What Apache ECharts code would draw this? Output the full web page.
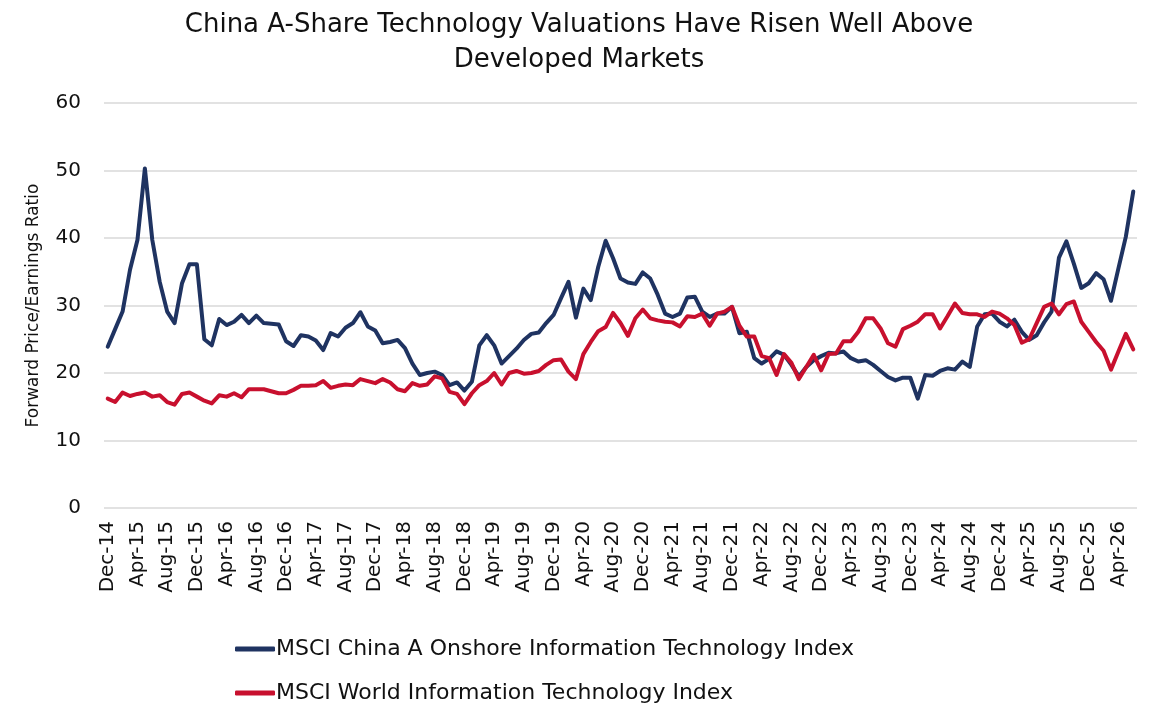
<!DOCTYPE html>
<html>
<head>
<meta charset="utf-8">
<script src="https://cdn.jsdelivr.net/npm/echarts@6/dist/echarts.min.js"></script>
<style>
  html, body { margin: 0; padding: 0; background: #fff; }
  #chart { width: 1158px; height: 720px; }
</style>
</head>
<body>
<div id="chart"></div>
<script>
// monthly, Dec-14 .. Jun-26
var monthNames = ['Jan', 'Feb', 'Mar', 'Apr', 'May', 'Jun', 'Jul', 'Aug', 'Sep', 'Oct', 'Nov', 'Dec'];
var startYear = 2014, startMonth = 11, monthCount = 139;

var chinaA = [
    23.9, 26.5, 29.1, 35.3, 39.7, 50.3, 39.7, 33.5, 29.1, 27.4, 33.3, 36.1,
    36.1, 25.0, 24.1, 28.0, 27.1, 27.6, 28.6, 27.4, 28.5, 27.4, 27.3, 27.2,
    24.7, 24.0, 25.6, 25.4, 24.8, 23.4, 25.9, 25.4, 26.7, 27.4, 29.0, 26.9,
    26.3, 24.4, 24.6, 24.9, 23.7, 21.4, 19.7, 20.0, 20.2, 19.7, 18.2, 18.6,
    17.4, 18.7, 24.1, 25.6, 24.1, 21.4, 22.5, 23.6, 24.9, 25.8, 26.0, 27.4,
    28.6, 31.1, 33.5, 28.2, 32.5, 30.8, 35.7, 39.6, 37.0, 34.0, 33.4, 33.2,
    34.9, 34.0, 31.6, 28.8, 28.3, 28.8, 31.2, 31.3, 29.1, 28.3, 28.8, 28.8,
    29.8, 25.9, 26.1, 22.2, 21.4, 22.1, 23.2, 22.7, 21.2, 19.5, 20.9, 21.9,
    22.5, 23.0, 22.9, 23.2, 22.2, 21.7, 21.9, 21.2, 20.3, 19.4, 18.9, 19.3,
    19.3, 16.2, 19.7, 19.6, 20.3, 20.7, 20.5, 21.7, 20.9, 26.9, 28.7, 28.8,
    27.6, 26.9, 27.9, 26.1, 24.9, 25.6, 27.5, 29.1, 37.1, 39.5, 36.2, 32.6,
    33.3, 34.8, 33.9, 30.7, 35.5, 40.2, 46.9
];

var worldIT = [
    16.2, 15.7, 17.1, 16.6, 16.9, 17.1, 16.5, 16.7, 15.7, 15.3, 16.9, 17.1,
    16.5, 15.9, 15.5, 16.7, 16.5, 17.0, 16.4, 17.6, 17.6, 17.6, 17.3, 17.0,
    17.0, 17.5, 18.1, 18.1, 18.2, 18.8, 17.8, 18.1, 18.3, 18.2, 19.1, 18.8,
    18.5, 19.1, 18.6, 17.6, 17.3, 18.5, 18.1, 18.3, 19.5, 19.2, 17.2, 16.9,
    15.4, 17.0, 18.2, 18.8, 20.0, 18.3, 20.0, 20.3, 19.9, 20.0, 20.3, 21.2,
    21.9, 22.0, 20.2, 19.1, 22.8, 24.6, 26.2, 26.8, 28.9, 27.4, 25.5, 28.1,
    29.4, 28.1, 27.8, 27.6, 27.5, 26.9, 28.4, 28.3, 28.8, 27.0, 28.8, 29.1,
    29.8, 27.0, 25.4, 25.4, 22.5, 22.2, 19.7, 22.8, 21.5, 19.1, 20.9, 22.7,
    20.4, 22.8, 22.9, 24.7, 24.7, 26.1, 28.1, 28.1, 26.6, 24.4, 23.9, 26.5,
    27.0, 27.6, 28.7, 28.7, 26.6, 28.4, 30.3, 28.9, 28.7, 28.7, 28.3, 29.1,
    28.8, 28.1, 27.1, 24.5, 25.0, 27.4, 29.8, 30.3, 28.7, 30.2, 30.6, 27.6,
    26.1, 24.6, 23.3, 20.5, 23.2, 25.8, 23.5
];

var yTicks = [0, 10, 20, 30, 40, 50, 60];

var categories = [];
for (var i = 0; i < monthCount; i++) {
    var m = (startMonth + i) % 12;
    var y = startYear + Math.floor((startMonth + i) / 12);
    categories.push(monthNames[m] + '-' + String(y).slice(2));
}

var fontFam = '"DejaVu Sans", "Open Sans", sans-serif';

var chart = echarts.init(document.getElementById('chart'));
chart.setOption({
    animation: false,
    title: {
        text: 'China A-Share Technology Valuations Have Risen Well Above\nDeveloped Markets',
        left: 'center',
        top: 3,
        textStyle: {
            fontFamily: fontFam,
            fontSize: 26,
            fontWeight: 'normal',
            color: '#111',
            lineHeight: 35
        }
    },
    color: ['#1f3361', '#c8102e'],
    legend: {
        orient: 'vertical',
        left: 230,
        top: 633,
        itemGap: 22,
        itemWidth: 40,
        itemHeight: 5,
        icon: 'roundRect',
        textStyle: {
            fontFamily: fontFam,
            fontSize: 22,
            color: '#111',
            padding: [0, 0, 0, -4]
        },
        data: ['MSCI China A Onshore Information Technology Index', 'MSCI World Information Technology Index']
    },
    grid: {
        left: 104,
        right: 21,
        top: 103,
        bottom: 212,
        containLabel: false
    },
    xAxis: {
        type: 'category',
        data: categories,
        boundaryGap: true,
        axisLine: { show: false },
        axisTick: { show: false },
        axisLabel: {
            interval: 3,
            rotate: 90,
            margin: 13,
            fontFamily: fontFam,
            fontSize: 20,
            color: '#111'
        }
    },
    yAxis: {
        type: 'value',
        min: yTicks[0],
        max: yTicks[yTicks.length - 1],
        interval: 10,
        name: 'Forward Price/Earnings Ratio',
        nameLocation: 'middle',
        nameGap: 62,
        nameTextStyle: {
            fontFamily: fontFam,
            fontSize: 17,
            color: '#111'
        },
        axisLine: { show: false },
        axisTick: { show: false },
        axisLabel: {
            margin: 23,
            fontFamily: fontFam,
            fontSize: 20,
            color: '#111'
        },
        splitLine: {
            lineStyle: { color: '#d9d9d9', width: 1.5 }
        }
    },
    series: [
        {
            name: 'MSCI China A Onshore Information Technology Index',
            type: 'line',
            data: chinaA,
            symbol: 'none',
            lineStyle: { width: 4, join: 'round', cap: 'round' }
        },
        {
            name: 'MSCI World Information Technology Index',
            type: 'line',
            data: worldIT,
            symbol: 'none',
            lineStyle: { width: 4, join: 'round', cap: 'round' }
        }
    ]
});
</script>
</body>
</html>
